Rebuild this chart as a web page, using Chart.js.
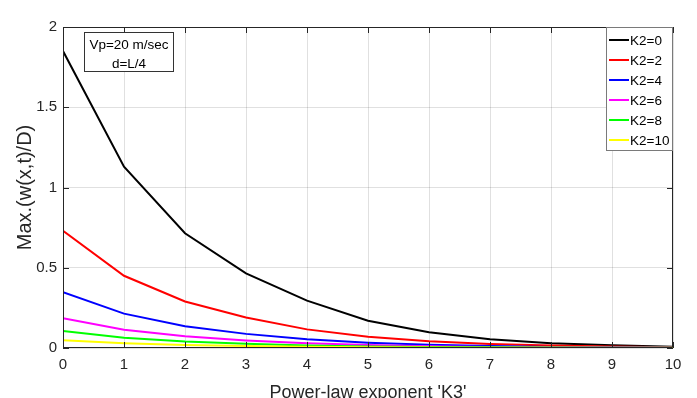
<!DOCTYPE html>
<html>
<head>
  <meta charset="UTF-8">
  <title>Max deflection vs K3</title>
  <script src="https://cdn.jsdelivr.net/npm/chart.js"></script>
  <style>
    html, body { margin: 0; padding: 0; background: #fff; }
    #wrap { width: 697px; height: 398px; }
  </style>
</head>
<body>
  <div id="wrap"><canvas id="chart"></canvas></div>
  <script>
    // values
    const k3 = [0, 1, 2, 3, 4, 5, 6, 7, 8, 9, 10];
    const k2_0 = [1.85, 1.13, 0.715, 0.465, 0.295, 0.17, 0.098, 0.055, 0.03, 0.017, 0.008];
    const k2_2 = [0.73, 0.45, 0.29, 0.19, 0.116, 0.07, 0.042, 0.025, 0.015, 0.009, 0.005];
    const k2_4 = [0.347, 0.214, 0.135, 0.088, 0.054, 0.033, 0.02, 0.012, 0.007, 0.004, 0.003];
    const k2_6 = [0.185, 0.114, 0.073, 0.047, 0.029, 0.018, 0.011, 0.007, 0.004, 0.003, 0.002];
    const k2_8 = [0.106, 0.064, 0.04, 0.026, 0.016, 0.01, 0.006, 0.004, 0.003, 0.002, 0.001];
    const k2_10 = [0.048, 0.03, 0.019, 0.012, 0.008, 0.005, 0.003, 0.002, 0.001, 0.001, 0.001];

    const seriesNames = ['K2=0', 'K2=2', 'K2=4', 'K2=6', 'K2=8', 'K2=10'];
    const seriesData = [k2_0, k2_2, k2_4, k2_6, k2_8, k2_10];
    const seriesColors = ['#000000', '#ff0000', '#0000ff', '#ff00ff', '#00ff00', '#ffff00'];
    const noteLines = ['Vp=20 m/sec', 'd=L/4'];

    const FONT = "Arial, 'Liberation Sans', sans-serif";
    const AXIS = '#262626';

    const datasets = seriesData.map((vals, i) => ({
      label: seriesNames[i],
      data: vals.map((v, j) => ({ x: k3[j], y: v })),
      borderColor: seriesColors[i],
      borderWidth: 2,
      pointRadius: 0,
      tension: 0,
      order: seriesData.length - i
    }));

    // box, inward ticks, legend and text box, MATLAB style
    const matlabAxes = {
      id: 'matlabAxes',
      afterDraw(chart) {
        const ctx = chart.ctx;
        const a = chart.chartArea;
        const xs = chart.scales.x, ys = chart.scales.y;
        ctx.save();
        ctx.strokeStyle = AXIS;
        ctx.lineWidth = 1;
        ctx.beginPath();
        ctx.rect(a.left + 0.5, a.top + 0.5, a.right - a.left - 1, a.bottom - a.top - 1);
        ctx.stroke();
        const tl = 6;
        ctx.beginPath();
        xs.ticks.forEach(t => {
          const px = Math.round(xs.getPixelForValue(t.value)) + 0.5;
          ctx.moveTo(px, a.bottom); ctx.lineTo(px, a.bottom - tl);
          ctx.moveTo(px, a.top); ctx.lineTo(px, a.top + tl);
        });
        ys.ticks.forEach(t => {
          const py = Math.round(ys.getPixelForValue(t.value)) + 0.5;
          ctx.moveTo(a.left, py); ctx.lineTo(a.left + tl, py);
          ctx.moveTo(a.right, py); ctx.lineTo(a.right - tl, py);
        });
        ctx.stroke();

        // legend
        const lw = 67, lh = 124;
        const lx = a.right - lw, ly = a.top;
        ctx.fillStyle = '#fff';
        ctx.fillRect(lx, ly, lw, lh);
        ctx.strokeStyle = '#7a7a7a';
        ctx.strokeRect(lx + 0.5, ly + 0.5, lw - 1, lh - 1);
        ctx.font = '13.5px ' + FONT;
        ctx.textBaseline = 'middle';
        ctx.textAlign = 'left';
        chart.data.datasets.forEach((ds, i) => {
          const ry = ly + 13 + i * 20;
          ctx.strokeStyle = ds.borderColor;
          ctx.lineWidth = 2;
          ctx.beginPath();
          ctx.moveTo(lx + 3, ry); ctx.lineTo(lx + 23, ry);
          ctx.stroke();
          ctx.fillStyle = '#000';
          ctx.fillText(ds.label, lx + 24, ry + 1);
        });

        // text box
        const bx = a.left + 21, by = a.top + 5, bw = 90, bh = 40;
        ctx.fillStyle = '#fff';
        ctx.fillRect(bx, by, bw, bh);
        ctx.strokeStyle = '#333';
        ctx.lineWidth = 1;
        ctx.strokeRect(bx + 0.5, by + 0.5, bw - 1, bh - 1);
        ctx.fillStyle = '#000';
        ctx.textAlign = 'center';
        noteLines.forEach((s, i) => ctx.fillText(s, bx + bw / 2, by + 13 + i * 19));
        ctx.restore();
      }
    };

    new Chart(document.getElementById('chart'), {
      type: 'line',
      data: { datasets },
      options: {
        responsive: true,
        maintainAspectRatio: false,
        animation: false,
        layout: { padding: { top: 27, right: 24, left: 0, bottom: 0 } },
        plugins: { legend: { display: false }, tooltip: { enabled: false } },
        scales: {
          x: {
            type: 'linear',
            min: 0, max: 10,
            afterFit: s => { s.height = 50; },
            ticks: { stepSize: 1, color: AXIS, font: { family: FONT, size: 15 }, padding: 8, maxRotation: 0 },
            grid: { color: 'rgba(0,0,0,0.12)', drawTicks: false },
            border: { display: false },
            title: {
              display: true,
              text: "Power-law exponent 'K3'",
              color: AXIS,
              font: { family: FONT, size: 18 },
              padding: { top: 0, bottom: -6 }
            }
          },
          y: {
            min: 0, max: 2,
            afterFit: s => { s.width = 63; },
            ticks: {
              stepSize: 0.5, color: AXIS, font: { family: FONT, size: 15 }, padding: 6,
              callback: v => String(Number(v.toFixed(1)))
            },
            grid: { color: 'rgba(0,0,0,0.12)', drawTicks: false },
            border: { display: false },
            title: {
              display: true,
              text: 'Max.(w(x,t)/D)',
              color: AXIS,
              font: { family: FONT, size: 20 },
              padding: { top: 13, bottom: 0 }
            }
          }
        }
      },
      plugins: [matlabAxes]
    });
  </script>
</body>
</html>
